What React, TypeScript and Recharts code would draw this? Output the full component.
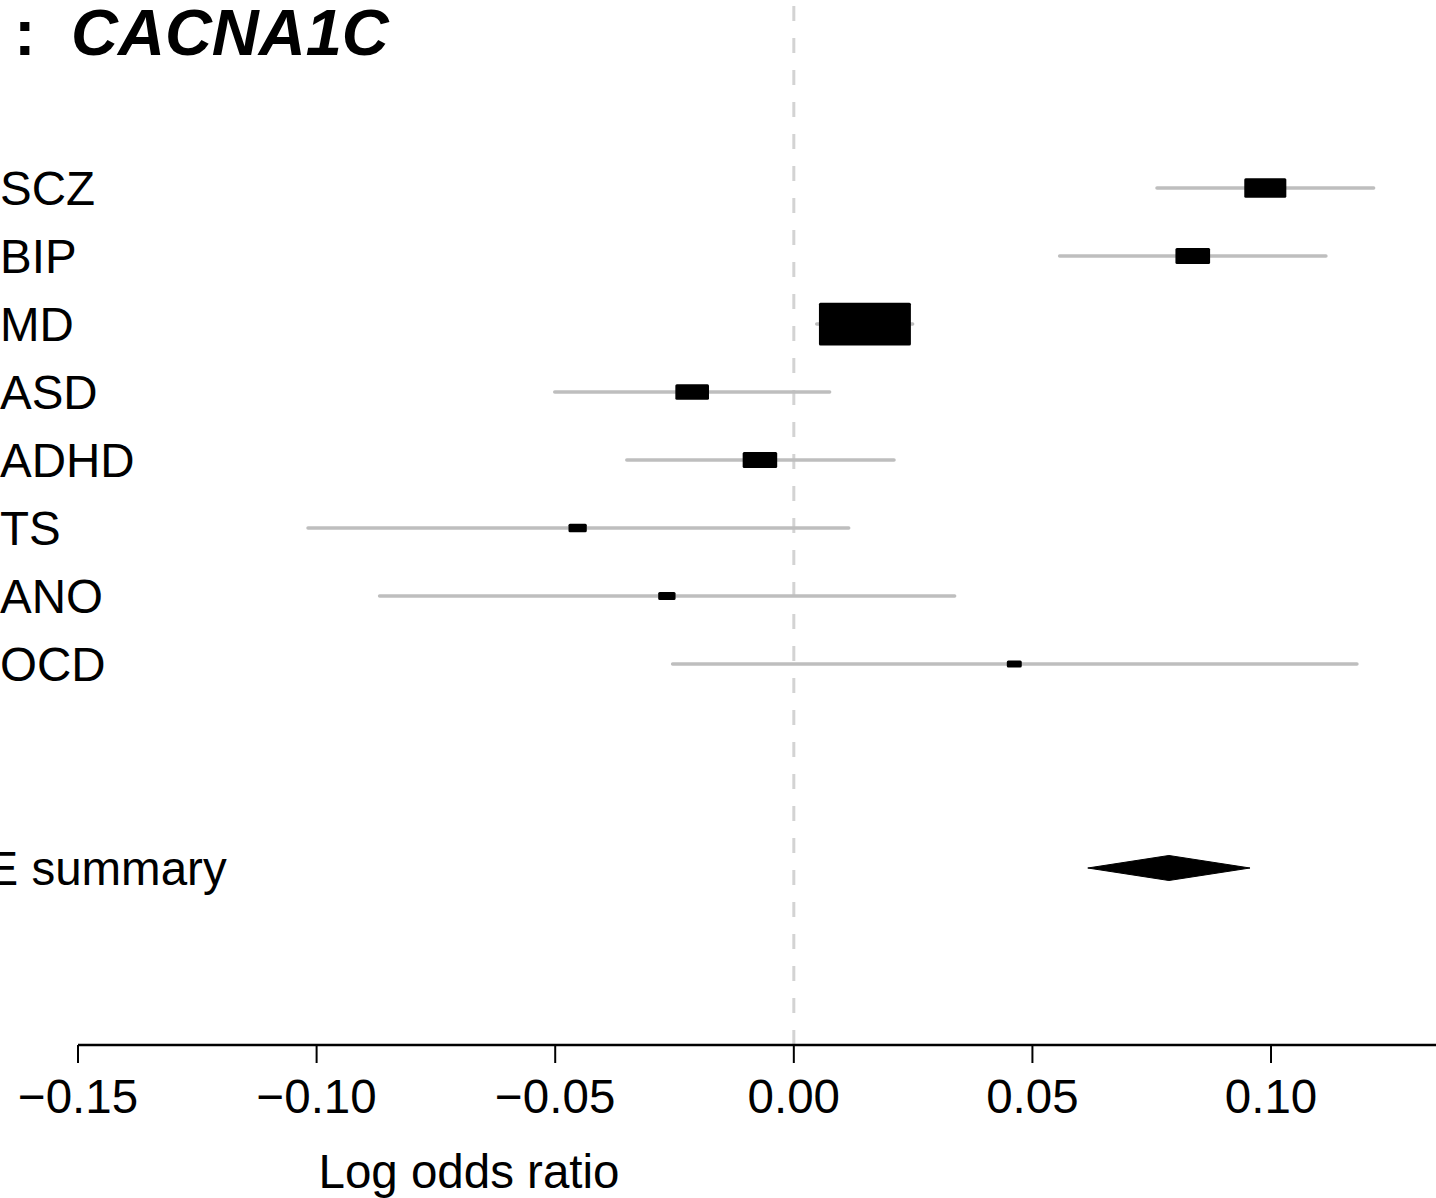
import React from "react";
import { ComposedChart, Scatter, Area, XAxis, YAxis, ReferenceLine } from "recharts";

const FONT = "'Liberation Sans', Arial, Helvetica, sans-serif";

// per-trait estimates (log odds ratio) with 95% CI
const traits = ["SCZ", "BIP", "MD", "ASD", "ADHD", "TS", "ANO", "OCD"];
const logOR = [0.0988, 0.0836, 0.0149, -0.0213, -0.0071, -0.0453, -0.0266, 0.0462];
const ciLower = [0.0761, 0.0557, 0.0048, -0.0501, -0.035, -0.1018, -0.0868, -0.0254];
const ciUpper = [0.1215, 0.1115, 0.0249, 0.0075, 0.021, 0.0115, 0.0337, 0.118];

// summary row
const summaryLabel = "RE summary";
const summaryEst = [0.0786];
const summaryLower = [0.0616];
const summaryUpper = [0.0956];

const xTicks = [-0.15, -0.1, -0.05, 0, 0.05, 0.1];

const SUMMARY_ROW = 10;
const DIAMOND_HALF = 0.184; // in row units

const rows = traits.map((name, i) => ({
  name,
  x: logOR[i],
  y: i,
  lo: ciLower[i],
  hi: ciUpper[i],
}));

const diamond = [
  { x: summaryLower[0], band: [SUMMARY_ROW, SUMMARY_ROW] },
  { x: summaryEst[0], band: [SUMMARY_ROW - DIAMOND_HALF, SUMMARY_ROW + DIAMOND_HALF] },
  { x: summaryUpper[0], band: [SUMMARY_ROW, SUMMARY_ROW] },
];

const fmtTick = (v: number) => (v < 0 ? "\u2212" : "") + Math.abs(v).toFixed(2);

// box size shrinks with CI width, like rmeta
const Box = (props: any) => {
  const { cx, cy, payload } = props;
  const w = 1.8 / (payload.hi - payload.lo) + 2.4;
  const h = w / 2.15;
  return <rect x={cx - w / 2} y={cy - h / 2} width={w} height={h} rx={1.5} fill="#000" />;
};

const RowLabel = (props: any) => {
  const { y, payload } = props;
  const isSummary = payload.value === SUMMARY_ROW;
  const text = isSummary ? summaryLabel : traits[payload.value];
  return (
    <text
      x={isSummary ? -47.8 : 0}
      y={y}
      dy="0.36em"
      textAnchor="start"
      fontSize={47.5}
      fontFamily={FONT}
      fill="#000"
    >
      {text}
    </text>
  );
};

const XLabel = () => (
  <text x={469} y={1188} textAnchor="middle" fontSize={47.5} fontFamily={FONT} fill="#000">
    Log odds ratio
  </text>
);

const titleStyle: React.CSSProperties = {
  position: "absolute",
  top: 4,
  fontFamily: FONT,
  fontWeight: "bold",
  fontSize: 65,
  lineHeight: "57px",
  whiteSpace: "nowrap",
};

export default function App() {
  return (
    <div style={{ position: "absolute", left: 0, top: 0, width: 1436, height: 1198, background: "#fff" }}>
      <ComposedChart width={1436} height={1198} margin={{ top: 0, right: 0, bottom: 0, left: 0 }}>
        <XAxis
          dataKey="x"
          type="number"
          domain={[-0.15, 0.13457]}
          allowDataOverflow
          ticks={xTicks}
          interval={0}
          tickFormatter={fmtTick}
          tickSize={18}
          tickMargin={16}
          height={153}
          axisLine={{ stroke: "#000", strokeWidth: 2.5 }}
          tickLine={{ stroke: "#000", strokeWidth: 2 }}
          tick={{ fill: "#000", fontSize: 47.5, fontFamily: FONT }}
          label={XLabel}
        />
        <YAxis
          dataKey="y"
          type="number"
          reversed
          domain={[-2.765, 12.603]}
          allowDataOverflow
          ticks={[0, 1, 2, 3, 4, 5, 6, 7, SUMMARY_ROW]}
          interval={0}
          width={78}
          axisLine={false}
          tickLine={false}
          tick={RowLabel}
        />
        <ReferenceLine x={0} stroke="#d3d3d3" strokeWidth={3} strokeDasharray="15 17" />
        {rows.map((r) => (
          <Scatter
            key={"ci-" + r.name}
            data={[
              { x: r.lo, y: r.y },
              { x: r.hi, y: r.y },
            ]}
            line={{ stroke: "#bebebe", strokeWidth: 3.5, strokeLinecap: "round" }}
            shape={() => <g />}
            isAnimationActive={false}
          />
        ))}
        <Scatter data={rows} shape={Box} isAnimationActive={false} />
        <Area
          data={diamond}
          dataKey="band"
          type="linear"
          stroke="#000"
          strokeWidth={1}
          fill="#000"
          fillOpacity={1}
          dot={false}
          activeDot={false}
          isAnimationActive={false}
        />
      </ComposedChart>
      <div style={{ ...titleStyle, left: 14 }}>:</div>
      <div style={{ ...titleStyle, left: 71 }}>
        <i>CACNA1C</i>
      </div>
    </div>
  );
}
